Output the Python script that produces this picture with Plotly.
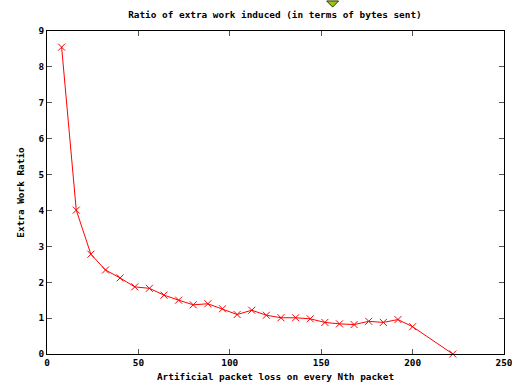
import plotly.graph_objects as go

# Data
packet_n = [8, 16, 24, 32, 40, 48, 56, 64, 72, 80, 88, 96, 104, 112, 120,
            128, 136, 144, 152, 160, 168, 176, 184, 192, 200, 222]
work_ratio = [8.55, 4.01, 2.78, 2.34, 2.12, 1.87, 1.83, 1.64, 1.50, 1.37, 1.40,
              1.26, 1.10, 1.22, 1.08, 1.01, 1.01, 0.98, 0.88, 0.84, 0.82, 0.91,
              0.88, 0.96, 0.76, 0.0]
x_ticks = [0, 50, 100, 150, 200, 250]
y_ticks = [0, 1, 2, 3, 4, 5, 6, 7, 8, 9]

FONT = "DejaVu Sans Mono"
FS = 9.4

fig = go.Figure()
fig.add_trace(go.Scatter(
    x=packet_n, y=work_ratio, mode="lines+markers",
    line=dict(color="#ff0000", width=1),
    marker=dict(symbol="x-thin", size=7, color="#ff0000",
                line=dict(color="#ff0000", width=1)),
    showlegend=False, cliponaxis=False,
))

axis_common = dict(
    showgrid=False, zeroline=False, showline=True, linecolor="#000000",
    linewidth=1, mirror="ticks", ticks="inside", ticklen=5,
    tickcolor="#555555", tickwidth=1, automargin=False,
    ticklabeloverflow="allow",
    tickfont=dict(family=FONT, size=FS, color="#000000", weight="bold"),
)

fig.update_layout(
    width=512, height=385,
    margin=dict(l=47, r=8, t=31, b=31),
    paper_bgcolor="white", plot_bgcolor="white",
    title=dict(text="Ratio of extra work induced (in terms of bytes sent)",
               x=0.537, xanchor="center", y=0.963, yanchor="middle",
               font=dict(family=FONT, size=FS, color="#000000", weight="bold")),
    xaxis=dict(range=[0, 250], tickvals=x_ticks,
               title=dict(text="Artificial packet loss on every Nth packet",
                          standoff=6,
                          font=dict(family=FONT, size=FS, color="#000000",
                                    weight="bold")),
               **axis_common),
    yaxis=dict(range=[0, 9], tickvals=y_ticks,
               title=dict(text="Extra Work Ratio", standoff=12,
                          font=dict(family=FONT, size=FS, color="#000000",
                                    weight="bold")),
               **axis_common),
    shapes=[dict(type="path", xref="paper", yref="paper",
                 path="M 0.612 1.093 L 0.638 1.093 L 0.625 1.074 Z",
                 fillcolor="#99cc00", line=dict(color="#333300", width=1))],
)

fig.write_html(
    "out.html",
    config={"displayModeBar": False},
    post_script="document.body.style.margin='0';document.body.style.overflow='hidden';",
)
